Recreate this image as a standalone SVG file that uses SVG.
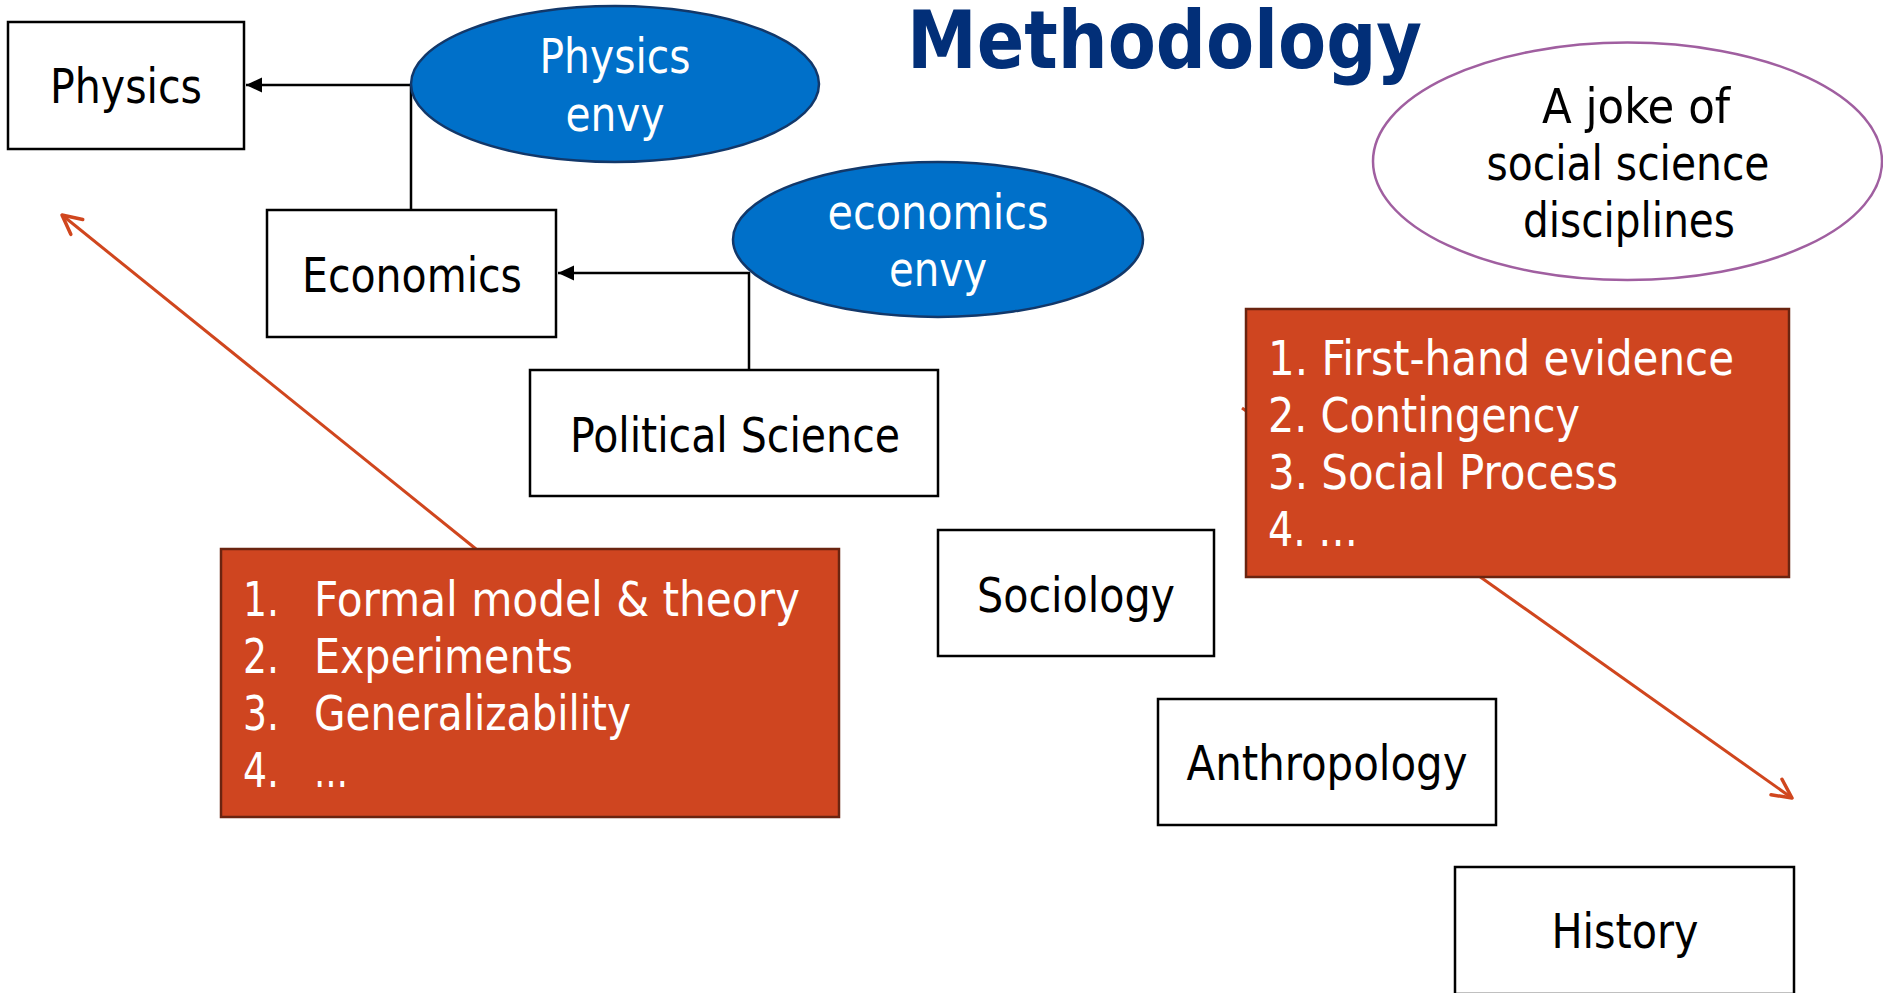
<svg xmlns="http://www.w3.org/2000/svg" width="1883" height="993" viewBox="0 0 1883 993">
  <style>
    text { font-family: "DejaVu Sans Condensed", "DejaVu Sans", sans-serif; font-size: 48px; }
    .box { fill: #ffffff; stroke: #000000; stroke-width: 2.5; }
    .lbl { fill: #000000; text-anchor: middle; }
    .envy { fill: #0070C9; stroke: #12386A; stroke-width: 2.5; }
    .wlbl { fill: #ffffff; text-anchor: middle; }
    .note { fill: #CF4520; stroke: #6A2410; stroke-width: 2.5; }
    .item { fill: #ffffff; }
    .link { fill: none; stroke: #000000; stroke-width: 2.5; }
    .trend { fill: none; stroke: #D0461E; stroke-width: 3; }
    .title { font-family: "DejaVu Sans Condensed", "DejaVu Sans", sans-serif; font-size: 80px; font-weight: bold; fill: #022F78; }
  </style>
  <defs>
    <marker id="solidHead" markerUnits="userSpaceOnUse" viewBox="-17 -9 18 18" refX="0" refY="0" markerWidth="18" markerHeight="18" orient="auto" overflow="visible">
      <path d="M0,0 L-16,-7.5 L-16,7.5 Z" fill="#000000"/>
    </marker>
    <marker id="openHead" markerUnits="userSpaceOnUse" viewBox="-22 -12 24 24" refX="0" refY="0" markerWidth="24" markerHeight="24" orient="auto" overflow="visible">
      <path d="M-19,-9.5 L0,0 L-19,9.5" fill="none" stroke="#D0461E" stroke-width="3.5" stroke-linecap="round" stroke-linejoin="round"/>
    </marker>
  </defs>
  <rect x="0" y="0" width="1883" height="993" fill="#ffffff"/>

  <g id="connectors">
    <path class="link" d="M411,210 V85 H246" marker-end="url(#solidHead)"/>
    <path class="link" d="M749,370 V273 H558" marker-end="url(#solidHead)"/>
    <path class="trend" d="M476,549 L62,215" marker-end="url(#openHead)"/>
    <path class="trend" d="M1242,408 L1792,798" marker-end="url(#openHead)"/>
  </g>

  <g id="title">
    <text class="title" x="907" y="68" textLength="515" lengthAdjust="spacingAndGlyphs">Methodology</text>
  </g>

  <g id="physics">
    <rect class="box" x="8" y="22" width="236" height="127"/>
    <text class="lbl" x="126" y="103" textLength="152" lengthAdjust="spacingAndGlyphs">Physics</text>
  </g>

  <g id="physics-envy">
    <ellipse class="envy" cx="615" cy="84" rx="204" ry="78"/>
    <text class="wlbl" x="615" y="73" textLength="151" lengthAdjust="spacingAndGlyphs">Physics</text>
    <text class="wlbl" x="615" y="131" textLength="99" lengthAdjust="spacingAndGlyphs">envy</text>
  </g>

  <g id="economics">
    <rect class="box" x="267" y="210" width="289" height="127"/>
    <text class="lbl" x="412" y="292" textLength="220" lengthAdjust="spacingAndGlyphs">Economics</text>
  </g>

  <g id="economics-envy">
    <ellipse class="envy" cx="938" cy="239.5" rx="205" ry="77.5"/>
    <text class="wlbl" x="938" y="229" textLength="221" lengthAdjust="spacingAndGlyphs">economics</text>
    <text class="wlbl" x="938" y="286" textLength="98" lengthAdjust="spacingAndGlyphs">envy</text>
  </g>

  <g id="political-science">
    <rect class="box" x="530" y="370" width="408" height="126"/>
    <text class="lbl" x="735" y="452" textLength="330" lengthAdjust="spacingAndGlyphs">Political Science</text>
  </g>

  <g id="sociology">
    <rect class="box" x="938" y="530" width="276" height="126"/>
    <text class="lbl" x="1076" y="612" textLength="198" lengthAdjust="spacingAndGlyphs">Sociology</text>
  </g>

  <g id="anthropology">
    <rect class="box" x="1158" y="699" width="338" height="126"/>
    <text class="lbl" x="1327" y="780" textLength="281" lengthAdjust="spacingAndGlyphs">Anthropology</text>
  </g>

  <g id="history">
    <rect class="box" x="1455" y="867" width="339" height="127"/>
    <text class="lbl" x="1625" y="948" textLength="147" lengthAdjust="spacingAndGlyphs">History</text>
  </g>

  <g id="joke">
    <ellipse cx="1627.5" cy="161.3" rx="254.5" ry="118.7" fill="#ffffff" stroke="#A05FA0" stroke-width="2.5"/>
    <text class="lbl" x="1636" y="123" textLength="188" lengthAdjust="spacingAndGlyphs">A joke of</text>
    <text class="lbl" x="1628" y="180" textLength="283" lengthAdjust="spacingAndGlyphs">social science</text>
    <text class="lbl" x="1629" y="237" textLength="212" lengthAdjust="spacingAndGlyphs">disciplines</text>
  </g>

  <g id="quantitative-traits">
    <rect class="note" x="221" y="549" width="618" height="268"/>
    <text class="item" x="243" y="616" textLength="36" lengthAdjust="spacingAndGlyphs">1.</text>
    <text class="item" x="314" y="616" textLength="486" lengthAdjust="spacingAndGlyphs">Formal model &amp; theory</text>
    <text class="item" x="243" y="673" textLength="36" lengthAdjust="spacingAndGlyphs">2.</text>
    <text class="item" x="314" y="673" textLength="259" lengthAdjust="spacingAndGlyphs">Experiments</text>
    <text class="item" x="243" y="730" textLength="36" lengthAdjust="spacingAndGlyphs">3.</text>
    <text class="item" x="314" y="730" textLength="317" lengthAdjust="spacingAndGlyphs">Generalizability</text>
    <text class="item" x="243" y="787" textLength="36" lengthAdjust="spacingAndGlyphs">4.</text>
    <text class="item" x="314" y="787" textLength="34" lengthAdjust="spacingAndGlyphs">…</text>
  </g>

  <g id="qualitative-traits">
    <rect class="note" x="1246" y="309" width="543" height="268"/>
    <text class="item" x="1268" y="375" textLength="466" lengthAdjust="spacingAndGlyphs">1. First-hand evidence</text>
    <text class="item" x="1268" y="432" textLength="312" lengthAdjust="spacingAndGlyphs">2. Contingency</text>
    <text class="item" x="1268" y="489" textLength="350" lengthAdjust="spacingAndGlyphs">3. Social Process</text>
    <text class="item" x="1268" y="546" textLength="90" lengthAdjust="spacingAndGlyphs">4. …</text>
  </g>
</svg>
